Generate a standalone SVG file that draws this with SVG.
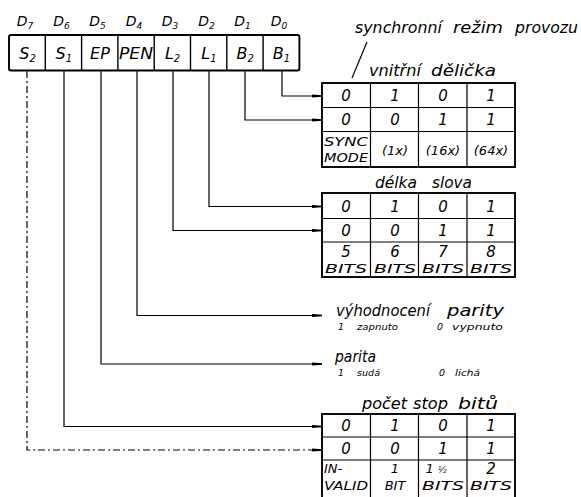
<svg xmlns="http://www.w3.org/2000/svg" width="581" height="497" viewBox="0 0 581 497">
<defs>
<style>
text{font-family:"DejaVu Sans","Liberation Sans",sans-serif;font-style:italic;fill:#000}
.lbl{font-size:14px;text-anchor:middle}
.reg{font-size:16px;text-anchor:middle}
.ttl{font-size:15px}
.cell{font-size:15px;text-anchor:middle}
.cap{font-size:13px;text-anchor:middle}
.sm{font-size:9.5px}
.frame{fill:none;stroke:#000;stroke-width:1.9}
.grid{fill:none;stroke:#000;stroke-width:1.2}
.wire{fill:none;stroke:#000;stroke-width:1.2}
.dash{stroke-dasharray:7 3 2 3}
</style>
<marker id="ah" markerWidth="10" markerHeight="4" refX="10" refY="2" orient="auto" markerUnits="userSpaceOnUse">
<path d="M0,0.4 L10,1.2 L10,2.8 L0,3.6 z" fill="#000"/>
</marker>
</defs>
<rect width="581" height="497" fill="#fff"/>

<g id="register">
<rect class="frame" x="9" y="35" width="290.4" height="35.5" rx="2"/>
<path class="grid" d="M45.3,35V70.5M81.6,35V70.5M117.9,35V70.5M154.2,35V70.5M190.5,35V70.5M226.8,35V70.5M263.1,35V70.5" style="stroke-width:1.4"/>
<text class="lbl" x="25" y="26">D<tspan font-size="9" dy="3">7</tspan></text>
<text class="lbl" x="61.5" y="26">D<tspan font-size="9" dy="3">6</tspan></text>
<text class="lbl" x="97.5" y="26">D<tspan font-size="9" dy="3">5</tspan></text>
<text class="lbl" x="134" y="26">D<tspan font-size="9" dy="3">4</tspan></text>
<text class="lbl" x="170" y="26">D<tspan font-size="9" dy="3">3</tspan></text>
<text class="lbl" x="206.5" y="26">D<tspan font-size="9" dy="3">2</tspan></text>
<text class="lbl" x="242.5" y="26">D<tspan font-size="9" dy="3">1</tspan></text>
<text class="lbl" x="279" y="26">D<tspan font-size="9" dy="3">0</tspan></text>
<text class="reg" x="27.5" y="59">S<tspan font-size="10" dy="3">2</tspan></text>
<text class="reg" x="63.8" y="59">S<tspan font-size="10" dy="3">1</tspan></text>
<text class="reg" x="100" y="59">EP</text>
<text class="reg" x="136" y="59" textLength="34" lengthAdjust="spacingAndGlyphs">PEN</text>
<text class="reg" x="172.6" y="59">L<tspan font-size="10" dy="3">2</tspan></text>
<text class="reg" x="208.9" y="59">L<tspan font-size="10" dy="3">1</tspan></text>
<text class="reg" x="245.2" y="59">B<tspan font-size="10" dy="3">2</tspan></text>
<text class="reg" x="281.5" y="59">B<tspan font-size="10" dy="3">1</tspan></text>
</g>

<g id="connectors">
<path class="wire" marker-end="url(#ah)" d="M282,71V96H322"/>
<path class="wire" marker-end="url(#ah)" d="M245,71V120H322"/>
<path class="wire" marker-end="url(#ah)" d="M209,71V206.5H322"/>
<path class="wire" marker-end="url(#ah)" d="M173,71V230.5H322"/>
<path class="wire" marker-end="url(#ah)" d="M137,71V315.5H322"/>
<path class="wire" marker-end="url(#ah)" d="M101,71V364H322"/>
<path class="wire" marker-end="url(#ah)" d="M64,71V426.5H322"/>
<path class="wire dash" marker-end="url(#ah)" d="M27,71V450H322"/>
<path class="wire" d="M367,42L352,78"/>
</g>

<g id="sync-title">
<text class="ttl" x="355" y="33" textLength="87" lengthAdjust="spacingAndGlyphs">synchronní</text>
<text class="ttl" x="453" y="33" textLength="50" lengthAdjust="spacingAndGlyphs">režim</text>
<text class="ttl" x="515" y="33" textLength="63" lengthAdjust="spacingAndGlyphs">provozu</text>
</g>

<g id="table-delicka">
<text class="ttl" x="369" y="76" textLength="52" lengthAdjust="spacingAndGlyphs">vnitřní</text>
<text class="ttl" x="431" y="76" textLength="65" lengthAdjust="spacingAndGlyphs">dělička</text>
<rect class="frame" x="322" y="83" width="193" height="84"/>
<path class="grid" d="M322,107.5H515M322,131.5H515M370.5,83V167M418.5,83V167M467,83V167"/>
<text class="cell" x="346" y="101">0</text><text class="cell" x="395" y="101">1</text><text class="cell" x="443" y="101">0</text><text class="cell" x="491" y="101">1</text>
<text class="cell" x="346" y="125">0</text><text class="cell" x="395" y="125">0</text><text class="cell" x="443" y="125">1</text><text class="cell" x="491" y="125">1</text>
<text class="cap" x="346" y="146" textLength="44" lengthAdjust="spacingAndGlyphs">SYNC</text>
<text class="cap" x="346" y="162" textLength="44" lengthAdjust="spacingAndGlyphs">MODE</text>
<text class="cap" x="395" y="155">(1x)</text><text class="cap" x="443" y="155">(16x)</text><text class="cap" x="491" y="155">(64x)</text>
</g>

<g id="table-delka">
<text class="ttl" x="375" y="188" textLength="42" lengthAdjust="spacingAndGlyphs">délka</text>
<text class="ttl" x="432" y="188" textLength="40" lengthAdjust="spacingAndGlyphs">slova</text>
<rect class="frame" x="322" y="193" width="193" height="84"/>
<path class="grid" d="M322,218.5H515M322,242H515M370.5,193V277M418.5,193V277M467,193V277"/>
<text class="cell" x="346" y="212">0</text><text class="cell" x="395" y="212">1</text><text class="cell" x="443" y="212">0</text><text class="cell" x="491" y="212">1</text>
<text class="cell" x="346" y="236">0</text><text class="cell" x="395" y="236">0</text><text class="cell" x="443" y="236">1</text><text class="cell" x="491" y="236">1</text>
<text class="cell" x="346" y="257">5</text><text class="cell" x="395" y="257">6</text><text class="cell" x="443" y="257">7</text><text class="cell" x="491" y="257">8</text>
<text class="cap" x="346" y="273" textLength="42" lengthAdjust="spacingAndGlyphs">BITS</text><text class="cap" x="395" y="273" textLength="42" lengthAdjust="spacingAndGlyphs">BITS</text><text class="cap" x="443" y="273" textLength="42" lengthAdjust="spacingAndGlyphs">BITS</text><text class="cap" x="491" y="273" textLength="42" lengthAdjust="spacingAndGlyphs">BITS</text>
</g>

<g id="parity-enable">
<text class="ttl" x="336" y="316" textLength="94" lengthAdjust="spacingAndGlyphs">výhodnocení</text>
<text class="ttl" x="447" y="316" textLength="57" lengthAdjust="spacingAndGlyphs">parity</text>
<text class="sm" x="338" y="330">1</text>
<text class="sm" x="357" y="330" textLength="41" lengthAdjust="spacingAndGlyphs">zapnuto</text>
<text class="sm" x="437" y="330">0</text>
<text class="sm" x="452" y="330" textLength="51" lengthAdjust="spacingAndGlyphs">vypnuto</text>
</g>

<g id="parity">
<text class="ttl" x="335" y="362" textLength="41" lengthAdjust="spacingAndGlyphs">parita</text>
<text class="sm" x="338" y="376">1</text>
<text class="sm" x="357" y="376" textLength="23" lengthAdjust="spacingAndGlyphs">sudá</text>
<text class="sm" x="439" y="376">0</text>
<text class="sm" x="455" y="376" textLength="25" lengthAdjust="spacingAndGlyphs">lichá</text>
</g>

<g id="table-stop">
<text class="ttl" x="362" y="409" textLength="45" lengthAdjust="spacingAndGlyphs">počet</text>
<text class="ttl" x="413" y="409" textLength="35" lengthAdjust="spacingAndGlyphs">stop</text>
<text class="ttl" x="458" y="409" textLength="40" lengthAdjust="spacingAndGlyphs">bitů</text>
<rect class="frame" x="322" y="414" width="193" height="84"/>
<path class="grid" d="M322,437H515M322,460H515M370.5,414V497M418.5,414V497M467,414V497"/>
<text class="cell" x="346" y="431">0</text><text class="cell" x="395" y="431">1</text><text class="cell" x="443" y="431">0</text><text class="cell" x="491" y="431">1</text>
<text class="cell" x="346" y="454">0</text><text class="cell" x="395" y="454">0</text><text class="cell" x="443" y="454">1</text><text class="cell" x="491" y="454">1</text>
<text class="cap" x="324" y="473" style="text-anchor:start">IN-</text>
<text class="cap" x="346" y="490" textLength="44" lengthAdjust="spacingAndGlyphs">VALID</text>
<text class="cap" x="395" y="473">1</text><text class="cap" x="395" y="490">BIT</text>
<text class="cap" x="436" y="473">1 <tspan font-size="9">½</tspan></text><text class="cap" x="443" y="490" textLength="42" lengthAdjust="spacingAndGlyphs">BITS</text>
<text class="cell" x="491" y="474">2</text><text class="cap" x="491" y="490" textLength="42" lengthAdjust="spacingAndGlyphs">BITS</text>
</g>
</svg>
